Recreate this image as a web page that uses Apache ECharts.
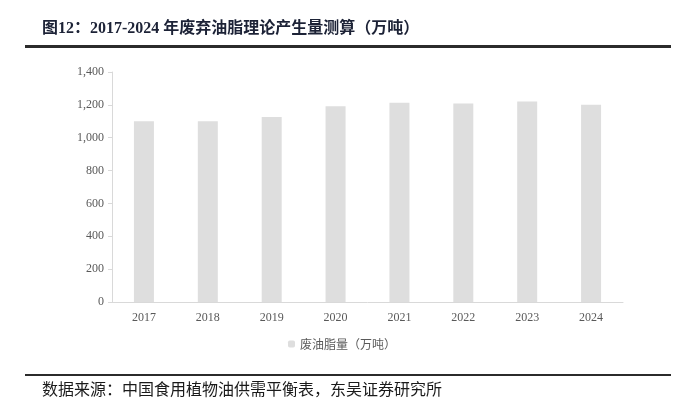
<!DOCTYPE html>
<html><head><meta charset="utf-8">
<script src="https://cdn.jsdelivr.net/npm/echarts@6/dist/echarts.min.js"></script>
<style>html,body{margin:0;padding:0;background:#fff}#c{width:684px;height:411px}</style>
</head><body><div id="c"></div>
<script>
const categories = ['2017','2018','2019','2020','2021','2022','2023','2024'];
const wasteOil = [1100, 1100, 1126, 1191, 1213, 1209, 1221, 1201];
const seriesName = '废油脂量（万吨）';
const titleText = '图12：2017-2024 年废弃油脂理论产生量测算（万吨）';
const sourceText = '数据来源：中国食用植物油供需平衡表，东吴证券研究所';

const chart = echarts.init(document.getElementById('c'));
const serif = '"Liberation Serif","Times New Roman","Noto Sans CJK SC",serif';
chart.setOption({
  animation: false,
  backgroundColor: '#fff',
  grid: {left: 112, right: 61, top: 72, bottom: 109},
  legend: {
    data: [seriesName], bottom: 56, left: 'center',
    itemWidth: 7, itemHeight: 7, itemGap: 3,
    textStyle: {color: '#595959', fontSize: 12, fontFamily: '"Noto Sans CJK SC",sans-serif'}
  },
  xAxis: {
    type: 'category', data: categories,
    axisLine: {lineStyle: {color: '#d9d9d9'}},
    axisTick: {show: false},
    axisLabel: {color: '#595959', fontSize: 12, fontFamily: serif, margin: 10}
  },
  yAxis: {
    type: 'value', min: 0, max: 1400, interval: 200,
    axisLine: {show: true, lineStyle: {color: '#d9d9d9'}},
    axisTick: {show: true, length: 4, lineStyle: {color: '#d9d9d9'}},
    splitLine: {show: false},
    axisLabel: {color: '#595959', fontSize: 12, fontFamily: serif, margin: 8,
      formatter: v => v.toLocaleString('en-US')}
  },
  series: [{
    name: seriesName, type: 'bar', data: wasteOil, barWidth: 20,
    itemStyle: {color: '#dedede'}
  }],
  graphic: [
    {type: 'text', left: 42, top: 21, style: {text: titleText, fill: '#1c2236',
      font: 'bold 16px "Liberation Serif","Noto Sans CJK SC",serif'}},
    {type: 'rect', shape: {x: 25, y: 45, width: 646, height: 3}, style: {fill: '#2b2b2b'}},
    {type: 'rect', shape: {x: 25, y: 374, width: 646, height: 2}, style: {fill: '#2b2b2b'}},
    {type: 'text', left: 42, top: 381, style: {text: sourceText, fill: '#1a1a1a',
      font: '16px "Noto Sans CJK SC",sans-serif'}}
  ]
});
</script></body></html>
